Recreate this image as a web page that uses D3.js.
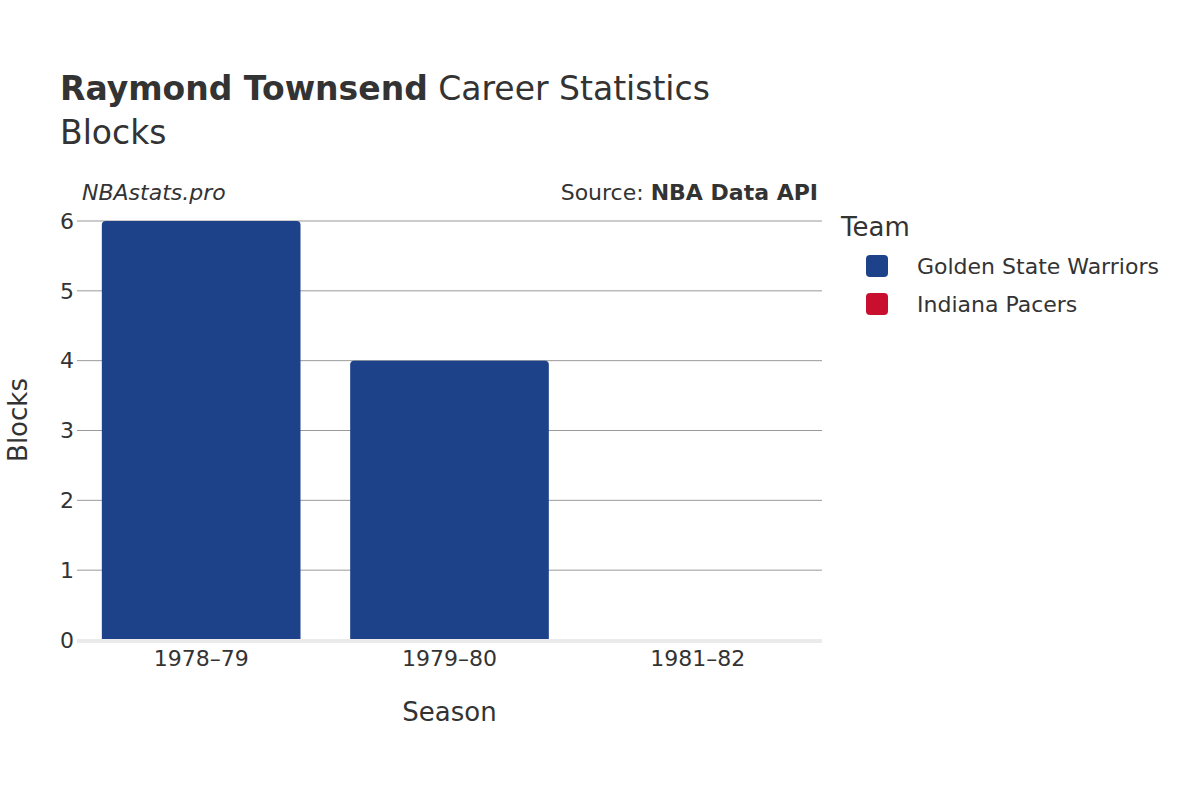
<!DOCTYPE html>
<html>
<head>
<meta charset="utf-8">
<script src="https://d3js.org/d3.v7.min.js"></script>
<style>
  body { margin: 0; background: #fff; }
  text { font-family: "DejaVu Sans", sans-serif; fill: #333; }
</style>
</head>
<body>
<svg id="chart" width="1200" height="800"></svg>
<script>
// data
const seasons = ["1978–79", "1979–80", "1981–82"];
const teams = ["Golden State Warriors", "Indiana Pacers"];
const teamColors = ["#1d428a", "#c8102e"];
const blocks = [6, 4, 0];
const barTeam = ["Golden State Warriors", "Golden State Warriors", "Indiana Pacers"];
const yTicks = [0, 1, 2, 3, 4, 5, 6];

const margin = { top: 221, left: 77, right: 378, bottom: 160 };
const width = 1200, height = 800;
const svg = d3.select("#chart");

const x = d3.scaleBand().domain(seasons).range([margin.left, width - margin.right]).paddingInner(0.2).paddingOuter(0.1);
const y = d3.scaleLinear().domain([0, 6]).range([height - margin.bottom, margin.top]);
const color = d3.scaleOrdinal().domain(teams).range(teamColors);

// gridlines
svg.append("g").selectAll("line").data(yTicks.filter(d => d > 0)).enter().append("line")
  .attr("x1", margin.left).attr("x2", width - margin.right)
  .attr("y1", d => y(d)).attr("y2", d => y(d))
  .attr("stroke", "#999").attr("stroke-width", 1);

// bars
const data = seasons.map((s, i) => ({ season: s, value: blocks[i], team: barTeam[i] }));
svg.append("g").selectAll("path").data(data.filter(d => d.value > 0)).enter().append("path")
  .attr("fill", d => color(d.team))
  .attr("d", d => {
    const x0 = x(d.season), w = x.bandwidth(), y0 = y(d.value), y1 = y(0), r = 4;
    return `M${x0},${y1}V${y0 + r}Q${x0},${y0} ${x0 + r},${y0}H${x0 + w - r}Q${x0 + w},${y0} ${x0 + w},${y0 + r}V${y1}Z`;
  });

// baseline
svg.append("line").attr("x1", margin.left).attr("x2", width - margin.right)
  .attr("y1", y(0) + 1).attr("y2", y(0) + 1).attr("stroke", "#ebebeb").attr("stroke-width", 4);

// y axis labels
svg.append("g").selectAll("text").data(yTicks).enter().append("text")
  .attr("x", margin.left - 3).attr("y", d => y(d)).attr("dy", "0.35em")
  .attr("text-anchor", "end").style("font-size", "22px").text(d => d);
svg.append("g").selectAll("line").data(yTicks).enter().append("line")
  .attr("x1", margin.left).attr("x2", margin.left + 0).attr("y1", d => y(d)).attr("y2", d => y(d));

// x axis labels
svg.append("g").selectAll("text").data(seasons).enter().append("text")
  .attr("x", d => x(d) + x.bandwidth() / 2).attr("y", 666)
  .attr("text-anchor", "middle").style("font-size", "22px").text(d => d);

svg.append("text").attr("x", (margin.left + width - margin.right) / 2).attr("y", 721)
  .attr("text-anchor", "middle").style("font-size", "26px").text("Season");
svg.append("text").attr("transform", "translate(27,420) rotate(-90)")
  .attr("text-anchor", "middle").style("font-size", "26px").text("Blocks");

// titles
const t = svg.append("text").attr("x", 60).attr("y", 100).style("font-size", "33px");
t.append("tspan").style("font-weight", "bold").text("Raymond Townsend");
t.append("tspan").text(" Career Statistics");
svg.append("text").attr("x", 60).attr("y", 144).style("font-size", "33px").text("Blocks");

svg.append("text").attr("x", 82).attr("y", 200).style("font-size", "22px").style("font-style", "italic").text("NBAstats.pro");
const s = svg.append("text").attr("x", 818).attr("y", 200).attr("text-anchor", "end").style("font-size", "22px");
s.append("tspan").text("Source: ");
s.append("tspan").style("font-weight", "bold").text("NBA Data API");

// legend
svg.append("text").attr("x", 841).attr("y", 236).style("font-size", "26px").text("Team");
const lg = svg.append("g").selectAll("g").data(teams).enter().append("g")
  .attr("transform", (d, i) => `translate(866,${266 + i * 38})`);
lg.append("rect").attr("x", 0).attr("y", -11).attr("width", 22).attr("height", 22).attr("rx", 4)
  .attr("fill", d => color(d));
lg.append("text").attr("x", 51).attr("dy", "0.35em").style("font-size", "22px").text(d => d);
</script>
</body>
</html>
